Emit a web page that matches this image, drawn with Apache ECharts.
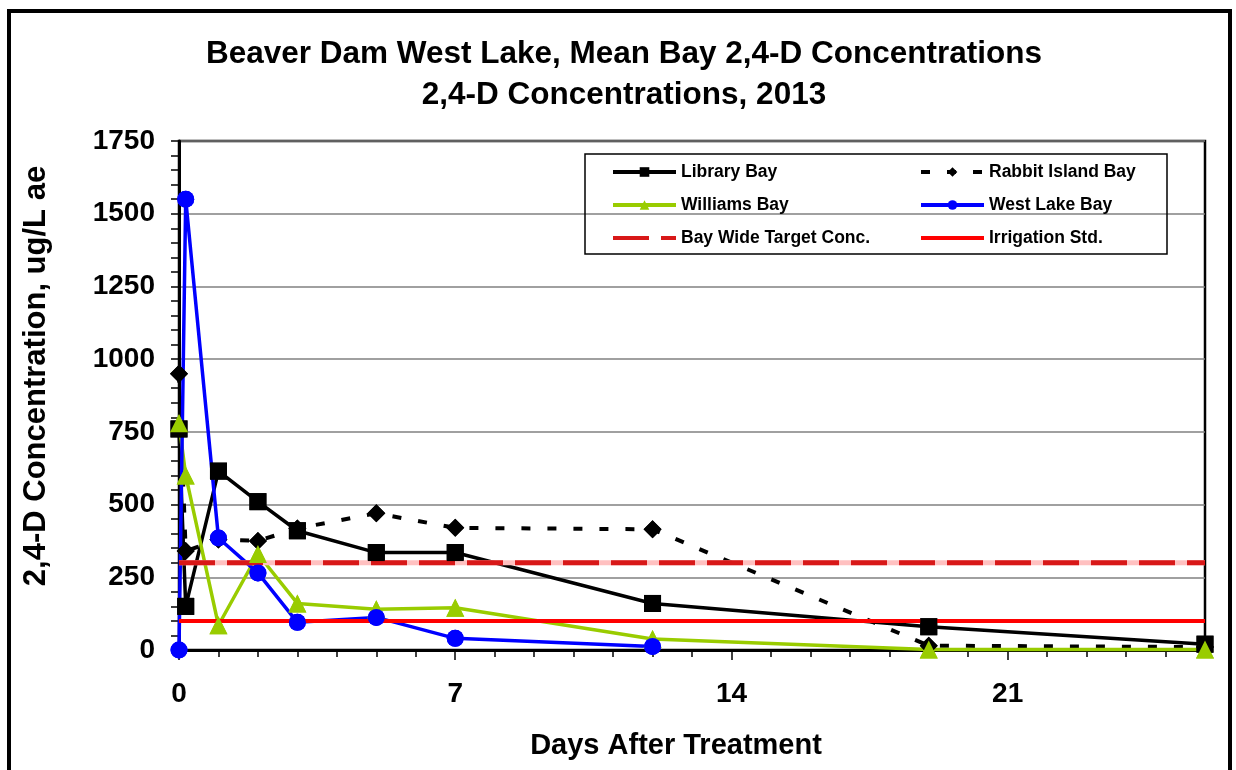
<!DOCTYPE html>
<html>
<head>
<meta charset="utf-8">
<script src="https://cdn.jsdelivr.net/npm/echarts@6/dist/echarts.min.js"></script>
<style>
html,body{margin:0;padding:0;background:#fff;}
#chart{width:1236px;height:770px;}
</style>
</head>
<body>
<div id="chart"></div>
<script>
// ---- data ----
const days = [0, 0.17, 1, 2, 3, 5, 7, 12, 19, 26];
const libraryBay = [760, 150, 615, 510, 410, 335, 335, 160, 80, 20];
const rabbitIslandBay = [950, 340, 380, 375, 418, 470, 420, 415, 15, 10];
const williamsBay = [780, 600, 85, 330, 160, 140, 145, 38, 2, 2];
const westLakeDays = [0, 0.17, 1, 2, 3, 5, 7, 12];
const westLakeBay = [0, 1550, 385, 265, 95, 112, 40, 12];
const refDays = [0, 26];
const bayWideTarget = [300, 300];
const irrigationStd = [100, 100];
const xTickLabels = [0, 7, 14, 21];
const yTicks = [0, 250, 500, 750, 1000, 1250, 1500, 1750];

const FONT = '"Liberation Sans", Arial, sans-serif';
const pair = (xs, ys) => xs.map((x, i) => [x, ys[i]]);

const chart = echarts.init(document.getElementById('chart'), null, {renderer: 'canvas'});

function lineSeries(name, xs, ys, color, symbol, size, lineType, z) {
  return {
    name, type: 'line', data: pair(xs, ys), xAxisIndex: 0, yAxisIndex: 0,
    symbol, symbolSize: size, showSymbol: true,
    itemStyle: {color: color, opacity: 1},
    lineStyle: {color: color, width: lineType === 'solid' ? 3.5 : 4, type: lineType === 'solid' ? 'solid' : [9, 17]},
    z: z, animation: false, emphasis: {disabled: true}
  };
}
function markerSeries(name, xs, ys, color, symbol, size) {
  return {
    name: name + ' markers', type: 'scatter', data: pair(xs, ys),
    symbol, symbolSize: size, itemStyle: {color: color, opacity: 1},
    z: 6, animation: false, emphasis: {disabled: true}, silent: true
  };
}
const noMarker = {color: 'rgba(0,0,0,0)', opacity: 0, borderWidth: 0};
const legendText = {fontFamily: FONT, fontWeight: 'bold', fontSize: 17.5, lineHeight: 20, color: '#000'};

const option = {
  backgroundColor: '#fff',
  animation: false,
  title: {
    text: 'Beaver Dam West Lake, Mean Bay 2,4-D Concentrations\n2,4-D Concentrations, 2013',
    left: 619, top: 29, textAlign: 'center',
    textStyle: {fontFamily: FONT, fontWeight: 'bold', fontSize: 31.5, lineHeight: 41, color: '#000'}
  },
  legend: [
    {
      data: ['Library Bay', 'Williams Bay', {name: 'Bay Wide Target Conc.', itemStyle: noMarker}],
      orient: 'vertical', left: 606, top: 157, itemWidth: 63, itemHeight: 12, itemGap: 13,
      lineStyle: {width: 4},
      textStyle: legendText, selectedMode: false
    },
    {
      data: ['Rabbit Island Bay', 'West Lake Bay', {name: 'Irrigation Std.', itemStyle: noMarker}],
      orient: 'vertical', left: 914, top: 157, itemWidth: 63, itemHeight: 12, itemGap: 13,
      lineStyle: {width: 4},
      textStyle: legendText, selectedMode: false
    }
  ],
  graphic: [
    {type: 'rect', shape: {x: 9, y: 11, width: 1221, height: 800}, style: {fill: null, stroke: '#000', lineWidth: 4}, z: 100, silent: true},
    {type: 'rect', shape: {x: 585, y: 154, width: 582, height: 100}, style: {fill: null, stroke: '#000', lineWidth: 1.5}, z: 100, silent: true},
    {type: 'text', x: 36, y: 376, rotation: Math.PI / 2,
     style: {text: '2,4-D Concentration, ug/L ae', font: 'bold 31px ' + FONT, fill: '#000', textAlign: 'center', textVerticalAlign: 'middle'}, silent: true}
  ],
  grid: {left: 179, top: 141, right: 31, bottom: 120, show: true, borderColor: '#000', borderWidth: 2.5, backgroundColor: 'transparent'},
  xAxis: [
    {
      type: 'value', min: 0, max: 26, interval: 1,
      name: 'Days After Treatment', nameLocation: 'middle', nameGap: 81,
      nameTextStyle: {fontFamily: FONT, fontWeight: 'bold', fontSize: 29, color: '#000', padding: [0, 32, 0, 0]},
      axisLine: {show: true, onZero: false, lineStyle: {color: '#000', width: 3}},
      axisTick: {show: true, length: 7, lineStyle: {color: '#000', width: 1.5}},
      axisLabel: {customValues: xTickLabels, margin: 30, fontFamily: FONT, fontWeight: 'bold', fontSize: 28, color: '#000'},
      splitLine: {show: false}
    },
    {
      type: 'value', min: 0, max: 26, position: 'bottom',
      axisLine: {show: false},
      axisTick: {show: true, customValues: xTickLabels, length: 10, lineStyle: {color: '#000', width: 1.5}},
      axisLabel: {show: false},
      splitLine: {show: false}
    }
  ],
  yAxis: {
    type: 'value', min: 0, max: 1750, interval: 250,
    axisLine: {show: true, lineStyle: {color: '#000', width: 3}},
    axisTick: {show: true, length: 8, lineStyle: {color: '#000', width: 1.5}},
    minorTick: {show: true, splitNumber: 5, length: 8, lineStyle: {color: '#000', width: 1.5}},
    axisLabel: {margin: 24, fontFamily: FONT, fontWeight: 'bold', fontSize: 28, color: '#000',
      customValues: yTicks, formatter: (v) => String(v)},
    splitLine: {show: true, lineStyle: {color: '#808080', width: 1.5}}
  },
  series: [
    lineSeries('Library Bay', days, libraryBay, '#000000', 'rect', 17, 'solid', 2),
    lineSeries('Rabbit Island Bay', days, rabbitIslandBay, '#000000', 'diamond', 18, 'dashed', 2),
    lineSeries('Williams Bay', days, williamsBay, '#99CC00', 'triangle', 18, 'solid', 2),
    lineSeries('West Lake Bay', westLakeDays, westLakeBay, '#0000FF', 'circle', 17, 'solid', 2),
    {
      name: 'Bay Wide Target underlay', type: 'line', data: pair(refDays, bayWideTarget), symbol: 'none',
      lineStyle: {color: '#FFC0C0', width: 5}, z: 3, animation: false, silent: true
    },
    {
      name: 'Bay Wide Target Conc.', type: 'line', data: pair(refDays, bayWideTarget), symbol: 'none',
      itemStyle: {color: '#D81818'},
      lineStyle: {color: '#D81818', width: 5, type: [36, 12]}, z: 4, animation: false, silent: true
    },
    {
      name: 'Irrigation Std.', type: 'line', data: pair(refDays, irrigationStd), symbol: 'none',
      itemStyle: {color: '#FF0000'},
      lineStyle: {color: '#FF0000', width: 4}, z: 4, animation: false, silent: true
    },
    markerSeries('Library Bay', days, libraryBay, '#000000', 'rect', 17),
    markerSeries('Rabbit Island Bay', days, rabbitIslandBay, '#000000', 'diamond', 18),
    markerSeries('Williams Bay', days, williamsBay, '#99CC00', 'triangle', 18),
    markerSeries('West Lake Bay', westLakeDays, westLakeBay, '#0000FF', 'circle', 17)
  ]
};
chart.setOption(option);
</script>
</body>
</html>
